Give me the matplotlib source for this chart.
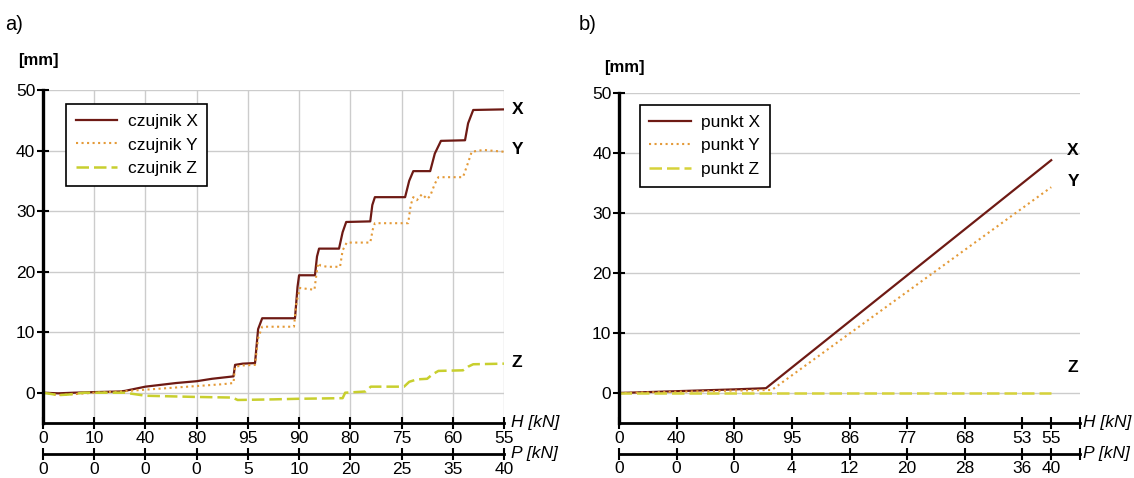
import matplotlib
matplotlib.use('Agg')
import matplotlib.pyplot as plt

plt.rcParams['font.family'] = ['Liberation Sans', 'DejaVu Sans']

# a) czujniki - tick labels
h_labels_a = ['0', '10', '40', '80', '95', '90', '80', '75', '60', '55']
p_labels_a = ['0', '0', '0', '0', '5', '10', '20', '25', '35', '40']

# a) readings (x in tick positions)
ax_x = [0, 0.3, 0.6, 1.0, 1.5, 1.6, 2.0, 2.3, 2.6, 3.0, 3.3, 3.72, 3.75, 3.9, 4.14, 4.2, 4.28,
        4.92, 4.97, 5.0, 5.31, 5.35, 5.39, 5.78, 5.85, 5.92, 6.39, 6.43, 6.48, 7.07, 7.15, 7.23,
        7.56, 7.65, 7.77, 8.24, 8.3, 8.4, 9.0]
ax_y = [0, -0.1, 0, 0.1, 0.2, 0.3, 1.0, 1.3, 1.6, 1.9, 2.3, 2.7, 4.6, 4.8, 4.9, 10.5, 12.3,
        12.3, 17.5, 19.4, 19.4, 22.5, 23.8, 23.8, 26.5, 28.2, 28.3, 31.0, 32.3, 32.3, 35.0, 36.6,
        36.6, 39.5, 41.6, 41.7, 44.5, 46.7, 46.8]

ay_x = [0, 0.3, 0.5, 1.0, 1.5, 2.0, 2.5, 3.0, 3.5, 3.72, 3.75, 3.9, 4.14, 4.2, 4.28, 4.9, 4.95,
        5.02, 5.3, 5.33, 5.37, 5.42, 5.55, 5.8, 5.85, 5.93, 6.39, 6.44, 6.48, 7.13, 7.18, 7.23,
        7.3, 7.4, 7.5, 7.56, 7.65, 7.72, 8.2, 8.3, 8.37, 8.6, 9.0]
ay_y = [0, -0.4, -0.3, 0, 0.2, 0.5, 0.8, 1.1, 1.4, 1.6, 4.3, 4.5, 4.6, 9.0, 10.9, 10.9, 15.0,
        17.3, 17.0, 19.0, 21.4, 21.0, 20.8, 20.8, 23.5, 24.8, 24.8, 27.0, 28.0, 28.0, 31.0, 32.3,
        31.8, 32.8, 32.0, 32.5, 34.5, 35.6, 35.6, 38.0, 39.8, 40.1, 39.8]

az_x = [0, 0.3, 0.5, 0.8, 1.6, 2.0, 3.0, 3.7, 3.8, 4.5, 5.0, 5.85, 5.9, 6.3, 6.4, 7.05, 7.15,
        7.3, 7.5, 7.6, 7.72, 8.2, 8.3, 8.4, 9.0]
az_y = [0, -0.4, -0.3, 0, 0, -0.5, -0.7, -0.8, -1.2, -1.1, -1.0, -0.9, 0.0, 0.2, 1.0, 1.0, 1.8,
        2.2, 2.3, 3.0, 3.6, 3.7, 4.3, 4.7, 4.8]

# b) punkty - tick labels
h_pos_b = [0, 1, 2, 3, 4, 5, 6, 7, 7.5, 8]
h_labels_b = ['0', '40', '80', '95', '86', '77', '68', '53', '55', '']
p_labels_b = ['0', '0', '0', '4', '12', '20', '28', '36', '40', '']

bx_x = [0, 1, 2, 2.55, 7.5]
bx_y = [0, 0.3, 0.6, 0.8, 38.8]
by_x = [0, 1, 2, 2.65, 7.5]
by_y = [0, 0.2, 0.4, 0.5, 34.3]
bz_x = [0, 2.5, 5.0, 7.5]
bz_y = [0, 0, 0, 0]

c_x = '#6e1a14'
c_y = '#e49a38'
c_z = '#c8cf2e'

fig = plt.figure(figsize=(11.34, 4.78), dpi=100)


def style_axes(ax, xmax, pos, hl, pl, lab_off, grid_minor=False):
    ax.set_xlim(0, xmax)
    ax.set_ylim(-5, 50)
    ax.set_yticks([0, 10, 20, 30, 40, 50])
    ax.set_axisbelow(True)
    for s in ['top', 'right']:
        ax.spines[s].set_visible(False)
    ax.spines['left'].set_linewidth(2.4)
    ax.spines['bottom'].set_linewidth(2.0)
    ax.set_xticks(pos)
    ax.set_xticklabels(hl)
    if grid_minor:
        ax.set_xticks(range(int(xmax) + 1), minor=True)
        ax.tick_params(axis='x', which='minor', length=0)
        ax.grid(True, axis='x', which='minor', color='#cccccc', lw=1.0)
    else:
        ax.grid(True, axis='x', color='#cccccc', lw=1.0)
    ax.grid(True, axis='y', color='#cccccc', lw=1.0)
    ax.tick_params(axis='x', which='major', direction='inout', length=9, width=1.5,
                   labelsize=12.5, pad=1)
    ax.tick_params(axis='y', which='major', direction='inout', length=9, width=1.5,
                   labelsize=12.5, pad=1)
    sec = ax.secondary_xaxis(-0.093)
    sec.set_xticks(pos)
    sec.set_xticklabels(pl)
    sec.spines['bottom'].set_linewidth(2.0)
    sec.tick_params(direction='inout', length=9, width=1.5, labelsize=12.5, pad=1)
    ax.text(1 + lab_off, 0.0, 'H [kN]', transform=ax.transAxes, fontsize=12.5, style='italic',
            ha='left', va='center')
    ax.text(1 + lab_off, -0.093, 'P [kN]', transform=ax.transAxes, fontsize=12.5, style='italic',
            ha='left', va='center')


def add_legend(ax, anchor):
    leg = ax.legend(loc='upper left', bbox_to_anchor=anchor, fontsize=12.5, frameon=True,
                    fancybox=False, edgecolor='black', framealpha=1, handlelength=2.4,
                    borderpad=0.55, labelspacing=0.5, handletextpad=0.6, borderaxespad=0)
    leg.get_frame().set_linewidth(1.2)


# a)
ax1 = fig.add_axes([0.0379, 0.1151, 0.4065, 0.6966])
ax1.plot(ax_x, ax_y, color=c_x, lw=1.6, label='czujnik X')
ax1.plot(ay_x, ay_y, color=c_y, lw=1.5, ls=':', label='czujnik Y')
ax1.plot(az_x, az_y, color=c_z, lw=1.8, ls=(0, (5, 2)), label='czujnik Z')
style_axes(ax1, 9, list(range(10)), h_labels_a, p_labels_a, 0.015)
ax1.text(9.15, 46.7, 'X', fontsize=12.5, fontweight='bold', va='center', clip_on=False)
ax1.text(9.15, 40.1, 'Y', fontsize=12.5, fontweight='bold', va='center', clip_on=False)
ax1.text(9.15, 5.0, 'Z', fontsize=12.5, fontweight='bold', va='center', clip_on=False)
add_legend(ax1, (0.05, 0.958))

# b)
ax2 = fig.add_axes([0.5459, 0.1151, 0.4065, 0.6903])
ax2.plot(bx_x, bx_y, color=c_x, lw=1.6, label='punkt X')
ax2.plot(by_x, by_y, color=c_y, lw=1.5, ls=':', label='punkt Y')
ax2.plot(bz_x, bz_y, color='#d6d23a', lw=1.8, ls=(0, (5, 2)), label='punkt Z')
style_axes(ax2, 8, h_pos_b, h_labels_b, p_labels_b, 0.006, grid_minor=True)
ax2.text(7.88, 40.5, 'X', fontsize=12.5, fontweight='bold', ha='center', va='center')
ax2.text(7.88, 35.2, 'Y', fontsize=12.5, fontweight='bold', ha='center', va='center')
ax2.text(7.88, 4.2, 'Z', fontsize=12.5, fontweight='bold', ha='center', va='center')
add_legend(ax2, (0.045, 0.964))

fig.text(5 / 1134, 1 - 25 / 478, 'a)', fontsize=14.5, va='center', ha='left')
fig.text(18 / 1134, 1 - 60 / 478, '[mm]', fontsize=12, fontweight='bold', va='center', ha='left')
fig.text(579 / 1134, 1 - 25 / 478, 'b)', fontsize=14.5, va='center', ha='left')
fig.text(604 / 1134, 1 - 67 / 478, '[mm]', fontsize=12, fontweight='bold', va='center', ha='left')

fig.savefig('out.png', dpi=100)
